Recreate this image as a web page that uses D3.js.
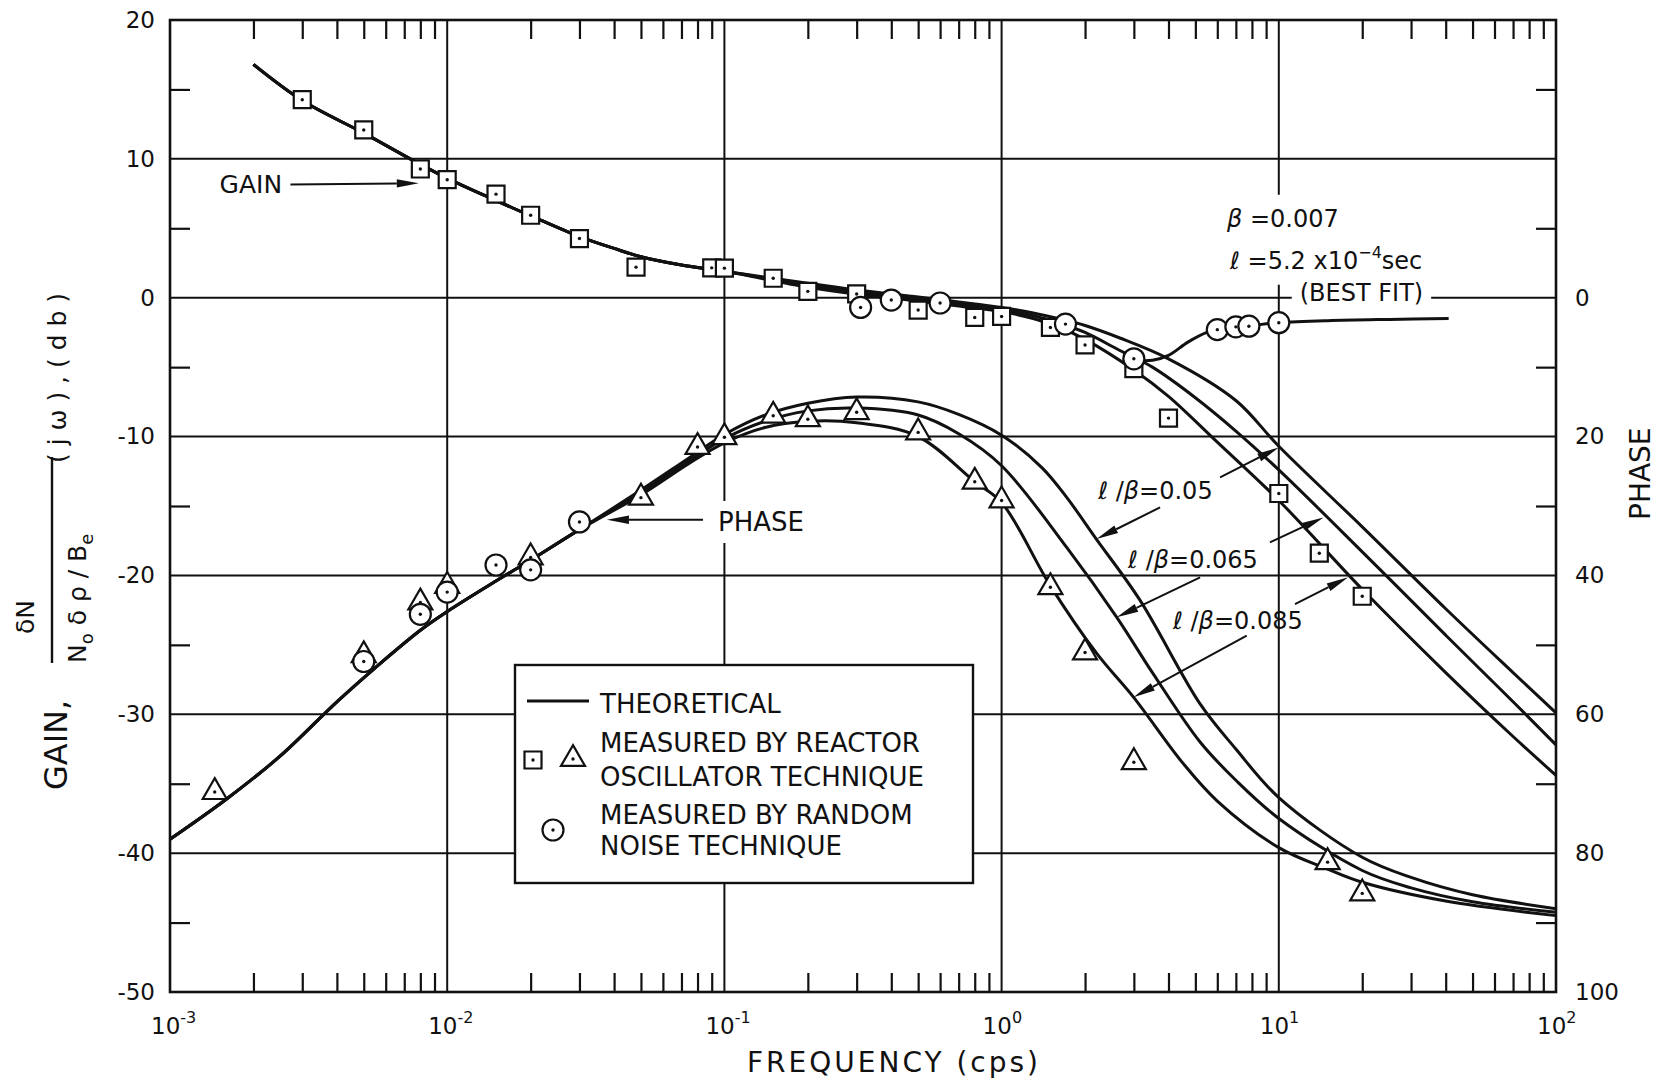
<!DOCTYPE html>
<html><head><meta charset="utf-8">
<script src="https://cdn.jsdelivr.net/npm/d3@7"></script>
<style>
body{margin:0;background:#fff;}
svg text{font-family:"DejaVu Sans",sans-serif;fill:#111;}
</style></head><body>
<svg id="chart" width="1657" height="1084"></svg>
<script>
// ---------- tick / grid definitions ----------
const freqDecades = [-3,-2,-1,0,1,2];
const gainTickValues = [20,10,0,-10,-20,-30,-40,-50];
const phaseTickValues = [0,20,40,60,80,100];
const gainGridValues = [10,0,-10,-20,-30,-40];
const freqGridValues = [0.01,0.1,1,10];

// ---------- theoretical gain (db) [freq cps, gain] ----------
const gainShared = [[0.002,16.8],[0.003,14.2],[0.005,11.85],[0.008,9.6],[0.01,8.6],[0.015,7.0],[0.02,5.9],[0.03,4.4],[0.04,3.55],[0.05,2.95],[0.07,2.35],[0.1,1.9]];
const gainLb005  = [[0.2,1.05],[0.3,0.55],[0.5,0.05],[0.7,-0.3],[1,-0.7],[1.3,-1.1],[1.6,-1.5],[2,-2.0],[2.67,-2.9],[4,-4.4],[7,-7.4],[10,-10.7],[20,-16.5],[40,-22.4],[70,-27.0],[100,-29.9]];
const gainLb0065 = [[0.2,0.9],[0.3,0.4],[0.5,-0.1],[0.7,-0.45],[1,-0.85],[1.3,-1.3],[1.6,-1.8],[2,-2.5],[2.67,-3.8],[3.5,-5.0],[5,-7.2],[7,-9.6],[10,-12.4],[20,-18.3],[40,-24.3],[70,-29.1],[100,-32.2]];
const gainLb0085 = [[0.2,0.75],[0.3,0.25],[0.5,-0.25],[0.7,-0.6],[1,-1.0],[1.3,-1.5],[1.6,-2.1],[2,-3.0],[3,-5.2],[4,-7.1],[6,-10.4],[10,-14.6],[20,-21.0],[40,-27.0],[70,-31.6],[100,-34.4]];

// ---------- theoretical phase (deg, right axis) ----------
const phaseShared = [[0.001,78],[0.0016,72.2],[0.0025,66],[0.004,58.2],[0.0055,53.3],[0.008,47.9],[0.01,45.2],[0.015,40.8],[0.02,37.8],[0.03,33.4]];
const phaseLb005  = [[0.05,27.7],[0.075,23.0],[0.1,19.7],[0.14,16.9],[0.2,15.2],[0.3,14.3],[0.5,15.0],[0.7,16.8],[1,19.8],[1.4,24.5],[1.72,28.8],[2.2,34.8],[3.16,43.6],[5.2,58.5],[7,65],[10,72],[20,80.6],[30,83.5],[50,86.0],[100,88.0]];
const phaseLb0065 = [[0.05,28.0],[0.075,23.4],[0.1,20.3],[0.14,17.8],[0.2,16.3],[0.3,15.9],[0.5,16.9],[0.7,19.6],[1,24.2],[1.72,36],[2.6,46],[3.5,54],[5.2,64],[7,69.5],[10,75],[20,82.5],[30,85],[50,87],[100,88.5]];
const phaseLb0085 = [[0.05,28.4],[0.075,23.8],[0.1,20.9],[0.14,18.7],[0.2,17.8],[0.3,18.0],[0.5,20.0],[0.8,26.5],[1,29.5],[1.5,41.5],[2.2,51.2],[3,57.6],[4.5,67],[6,72.5],[10,79.2],[15,82.3],[20,84.2],[40,86.9],[100,89.0]];

// ---------- best fit through random-noise gain ----------
const noiseFitGain = [[3.0,-4.5],[3.5,-4.5],[4.0,-4.15],[4.7,-3.2],[5.5,-2.5],[6,-2.3],[7,-2.12],[8,-2.0],[10,-1.8],[15,-1.65],[25,-1.56],[41,-1.5]];

// ---------- measured points ----------
const oscGain = [[0.003,14.26],[0.005,12.08],[0.008,9.27],[0.01,8.5],[0.015,7.46],[0.02,5.94],[0.03,4.26],[0.048,2.2],[0.09,2.15],[0.1,2.13],[0.15,1.4],[0.2,0.46],[0.3,0.27],[0.5,-0.89],[0.8,-1.42],[1.0,-1.35],[1.5,-2.14],[2.0,-3.4],[3.0,-5.1],[4.0,-8.67],[10,-14.1],[14,-18.4],[20,-21.5]];
const oscPhase = [[0.00145,71.2],[0.005,51.5],[0.008,43.9],[0.01,41.5],[0.02,37.4],[0.05,28.8],[0.08,21.5],[0.1,20.1],[0.15,17.0],[0.2,17.5],[0.3,16.5],[0.5,19.4],[0.8,26.5],[1.0,29.2],[1.5,41.7],[2.0,51.1],[3.0,66.9],[15,81.3],[20,85.8]];
const noiseGain = [[0.31,-0.7],[0.4,-0.17],[0.6,-0.38],[1.7,-1.9],[3.0,-4.4],[6,-2.3],[7,-2.1],[7.8,-2.05],[10,-1.8]];
const noisePhase = [[0.005,52.4],[0.008,45.6],[0.01,42.4],[0.015,38.5],[0.02,39.2],[0.03,32.3]];

// ---------- annotation arrows [f1,g1,f2,g2] in gain units ----------
const arrows = [
  [0.00272,8.15,0.0079,8.25],
  [0.0837,-15.99,0.0377,-15.99],
  [6.14,-12.94,10.0,-10.78],
  [3.73,-15.1,2.20,-17.38],
  [9.29,-17.62,14.5,-15.82],
  [5.2,-20.14,2.60,-23.02],
  [11.44,-22.06,17.8,-20.14],
  [7.66,-24.34,2.99,-28.78]
];

const ink = "#111";
const svg = d3.select("#chart");
svg.append("rect").attr("width",1657).attr("height",1084).attr("fill","#fff");

const x = d3.scaleLog().domain([1e-3,1e2]).range([170,1556]);
const y = d3.scaleLinear().domain([-50,20]).range([992,20]);
const yP = d3.scaleLinear().domain([0,100]).range([y(0), y(-50)]);
const [X0,X1] = x.range();
const [Y0,Y1] = [y(20), y(-50)];

// grid
const grid = svg.append("g").attr("stroke",ink).attr("stroke-width",2);
grid.selectAll("line.hg").data(gainGridValues).join("line").attr("class","hg")
  .attr("x1",X0).attr("x2",X1).attr("y1",d=>y(d)).attr("y2",d=>y(d));
grid.selectAll("line.vg").data(freqGridValues).join("line").attr("class","vg")
  .attr("x1",d=>x(d)).attr("x2",d=>x(d)).attr("y1",Y0).attr("y2",Y1);

// minor ticks
const minorX = d3.range(-3,2).flatMap(e=>d3.range(2,10).map(m=>m*Math.pow(10,e)));
const minorY = d3.range(-45,20,10);
function clean(g){
  g.select(".domain").remove();
  g.selectAll(".tick line").attr("stroke",ink).attr("stroke-width",2.2);
  g.attr("font-family",null).attr("font-size",null);
}
svg.append("g").attr("transform",`translate(0,${Y1})`)
  .call(d3.axisBottom(x).tickValues(minorX).tickSize(-19).tickFormat(()=>"")).call(clean);
svg.append("g").attr("transform",`translate(0,${Y0})`)
  .call(d3.axisTop(x).tickValues(minorX).tickSize(-19).tickFormat(()=>"")).call(clean);
svg.append("g").attr("transform",`translate(${X0},0)`)
  .call(d3.axisLeft(y).tickValues(minorY).tickSize(-20).tickFormat(()=>"")).call(clean);
svg.append("g").attr("transform",`translate(${X1},0)`)
  .call(d3.axisRight(y).tickValues(minorY).tickSize(-20).tickFormat(()=>"")).call(clean);

// left labels
const la = svg.append("g").attr("transform",`translate(${X0},0)`)
  .call(d3.axisLeft(y).tickValues(gainTickValues).tickSize(0).tickPadding(15).tickFormat(d=>String(d))).call(clean);
la.selectAll("text").attr("font-size",23);
const ra = svg.append("g").attr("transform",`translate(${X1},0)`)
  .call(d3.axisRight(yP).tickValues(phaseTickValues).tickSize(0).tickPadding(19).tickFormat(d=>String(d))).call(clean);
ra.selectAll("text").attr("font-size",23);

// bottom decade labels
const xl = svg.append("g").selectAll("text").data(freqDecades).join("text")
  .attr("x",d=>x(Math.pow(10,d))-19).attr("y",1034).attr("font-size",23);
xl.append("tspan").text("10");
xl.append("tspan").attr("dy",-11).attr("font-size",16).text(d=>String(d));

// frame
svg.append("rect").attr("x",X0).attr("y",Y0).attr("width",X1-X0).attr("height",Y1-Y0)
  .attr("fill","none").attr("stroke",ink).attr("stroke-width",2.6);

// backdrop helper
function backdrop(nodes,padX,padY){
  let x0=Infinity,y0=Infinity,x1=-Infinity,y1=-Infinity;
  nodes.forEach(n=>{const b=n.getBBox();x0=Math.min(x0,b.x);y0=Math.min(y0,b.y);x1=Math.max(x1,b.x+b.width);y1=Math.max(y1,b.y+b.height);});
  return {x:x0-padX,y:y0-padY,w:x1-x0+2*padX,h:y1-y0+2*padY};
}
const bgLayer = svg.append("g");
const curveLayer = svg.append("g");
const noteLayer = svg.append("g");

// curves
const gainLine = d3.line().x(d=>x(d[0])).y(d=>y(d[1])).curve(d3.curveCatmullRom.alpha(0.5));
const phaseLine = d3.line().x(d=>x(d[0])).y(d=>yP(d[1])).curve(d3.curveCatmullRom.alpha(0.5));
[gainLb005,gainLb0065,gainLb0085].forEach(b=>{
  curveLayer.append("path").attr("d",gainLine(gainShared.concat(b)))
    .attr("fill","none").attr("stroke",ink).attr("stroke-width",3);
});
[phaseLb005,phaseLb0065,phaseLb0085].forEach(b=>{
  curveLayer.append("path").attr("d",phaseLine(phaseShared.concat(b)))
    .attr("fill","none").attr("stroke",ink).attr("stroke-width",3);
});
curveLayer.append("path").attr("d",gainLine(noiseFitGain))
  .attr("fill","none").attr("stroke",ink).attr("stroke-width",3);

// markers
const sq = d3.symbol(d3.symbolSquare,289)();
const tri = d3.symbol(d3.symbolTriangle,250)();
function marker(g,shape,px,py){
  const m = g.append("g").attr("transform",`translate(${px},${py})`);
  if(shape==="circle") m.append("circle").attr("r",10.5).attr("fill","#fff").attr("stroke",ink).attr("stroke-width",2.2);
  else m.append("path").attr("d",shape==="square"?sq:tri).attr("fill","#fff").attr("stroke",ink).attr("stroke-width",2.2).attr("stroke-linejoin","miter");
  m.append("circle").attr("r",1.7).attr("fill",ink);
}
const mk = svg.append("g");
oscPhase.forEach(d=>marker(mk,"triangle",x(d[0]),yP(d[1])));
noisePhase.forEach(d=>marker(mk,"circle",x(d[0]),yP(d[1])));
oscGain.forEach(d=>marker(mk,"square",x(d[0]),y(d[1])));
noiseGain.forEach(d=>marker(mk,"circle",x(d[0]),y(d[1])));

// arrows
arrows.forEach(a=>{
  const x1=x(a[0]),y1=y(a[1]),x2=x(a[2]),y2=y(a[3]);
  const ang=Math.atan2(y2-y1,x2-x1),L=22,w=4.2;
  const bx=x2-L*Math.cos(ang),by=y2-L*Math.sin(ang);
  noteLayer.append("line").attr("x1",x1).attr("y1",y1).attr("x2",bx).attr("y2",by).attr("stroke",ink).attr("stroke-width",2);
  noteLayer.append("path").attr("d",`M${x2},${y2}L${bx-w*Math.sin(ang)},${by+w*Math.cos(ang)}L${bx+w*Math.sin(ang)},${by-w*Math.cos(ang)}Z`).attr("fill",ink);
});

// annotation texts
noteLayer.append("text").attr("x",x(0.00151)).attr("y",y(7.54)).attr("font-size",25).text("GAIN");
const phT = noteLayer.append("text").attr("x",x(0.0948)).attr("y",y(-16.8)).attr("font-size",26).text("PHASE");
function lbText(f,g,val){
  const t = noteLayer.append("text").attr("x",x(f)).attr("y",y(g)).attr("font-size",24);
  t.append("tspan").attr("font-style","italic").text("ℓ");
  t.append("tspan").text(" /");
  t.append("tspan").attr("font-style","italic").text("β");
  t.append("tspan").text("="+val);
  return t;
}
lbText(2.23,-14.47,"0.05");
lbText(2.86,-19.44,"0.065");
lbText(4.15,-23.84,"0.085");
const b1 = noteLayer.append("text").attr("x",x(6.5)).attr("y",y(5.11)).attr("font-size",24);
b1.append("tspan").attr("font-style","italic").text("β");
b1.append("tspan").text(" =0.007");
const b2 = noteLayer.append("text").attr("x",x(6.67)).attr("y",y(2.09)).attr("font-size",24);
b2.append("tspan").attr("font-style","italic").text("ℓ");
b2.append("tspan").text(" =5.2 x10");
b2.append("tspan").attr("dy",-11).attr("font-size",16).text("−4");
b2.append("tspan").attr("dy",11).text("sec");
const b3 = noteLayer.append("text").attr("x",x(11.9)).attr("y",y(-0.22)).attr("font-size",24).text("(BEST FIT)");

// backdrops behind annotation text (gaps in grid)
[[ [phT.node()],6,6 ], [ [b1.node(),b2.node()],6,10 ], [ [b3.node()],8,4 ]].forEach(([nodes,px,py])=>{
  const r = backdrop(nodes,px,py);
  bgLayer.append("rect").attr("x",r.x).attr("y",r.y).attr("width",r.w).attr("height",r.h).attr("fill","#fff");
});

// legend
const lg = svg.append("g");
lg.append("rect").attr("x",515).attr("y",665).attr("width",458).attr("height",218)
  .attr("fill","#fff").attr("stroke",ink).attr("stroke-width",2.4);
lg.append("line").attr("x1",527).attr("x2",589).attr("y1",701).attr("y2",701).attr("stroke",ink).attr("stroke-width",3.2);
const legendLines = [["THEORETICAL",713],["MEASURED BY REACTOR",752],["OSCILLATOR TECHNIQUE",786],["MEASURED BY RANDOM",824],["NOISE TECHNIQUE",855]];
legendLines.forEach(([t,yy])=>lg.append("text").attr("x",600).attr("y",yy).attr("font-size",26).text(t));
marker(lg,"square",533,760);
marker(lg,"triangle",573,759);
marker(lg,"circle",553,830);

// axis titles
svg.append("text").attr("x",747).attr("y",1072).attr("font-size",28)
  .attr("textLength",291).attr("lengthAdjust","spacing").text("FREQUENCY (cps)");
svg.append("text").attr("transform","translate(1650,520) rotate(-90)").attr("font-size",28).text("PHASE");

const yl = svg.append("g").attr("transform","rotate(-90)");
yl.append("text").attr("x",-790).attr("y",67).attr("font-size",32).text("GAIN,");
const num = yl.append("text").attr("x",-634).attr("y",34).attr("font-size",25);
num.append("tspan").text("δ");
num.append("tspan").text("N");
yl.append("line").attr("x1",-663).attr("x2",-457).attr("y1",52).attr("y2",52).attr("stroke",ink).attr("stroke-width",2.4);
const den = yl.append("text").attr("x",-663).attr("y",86).attr("font-size",25);
den.append("tspan").text("N");
den.append("tspan").attr("dy",7).attr("font-size",18).text("o");
den.append("tspan").attr("dy",-7).text(" δ ρ / B");
den.append("tspan").attr("dy",7).attr("font-size",18).text("e");
yl.append("text").attr("x",-463).attr("y",66).attr("font-size",25)
  .attr("textLength",170).attr("lengthAdjust","spacing").text("(jω),(db)");
</script></body></html>
